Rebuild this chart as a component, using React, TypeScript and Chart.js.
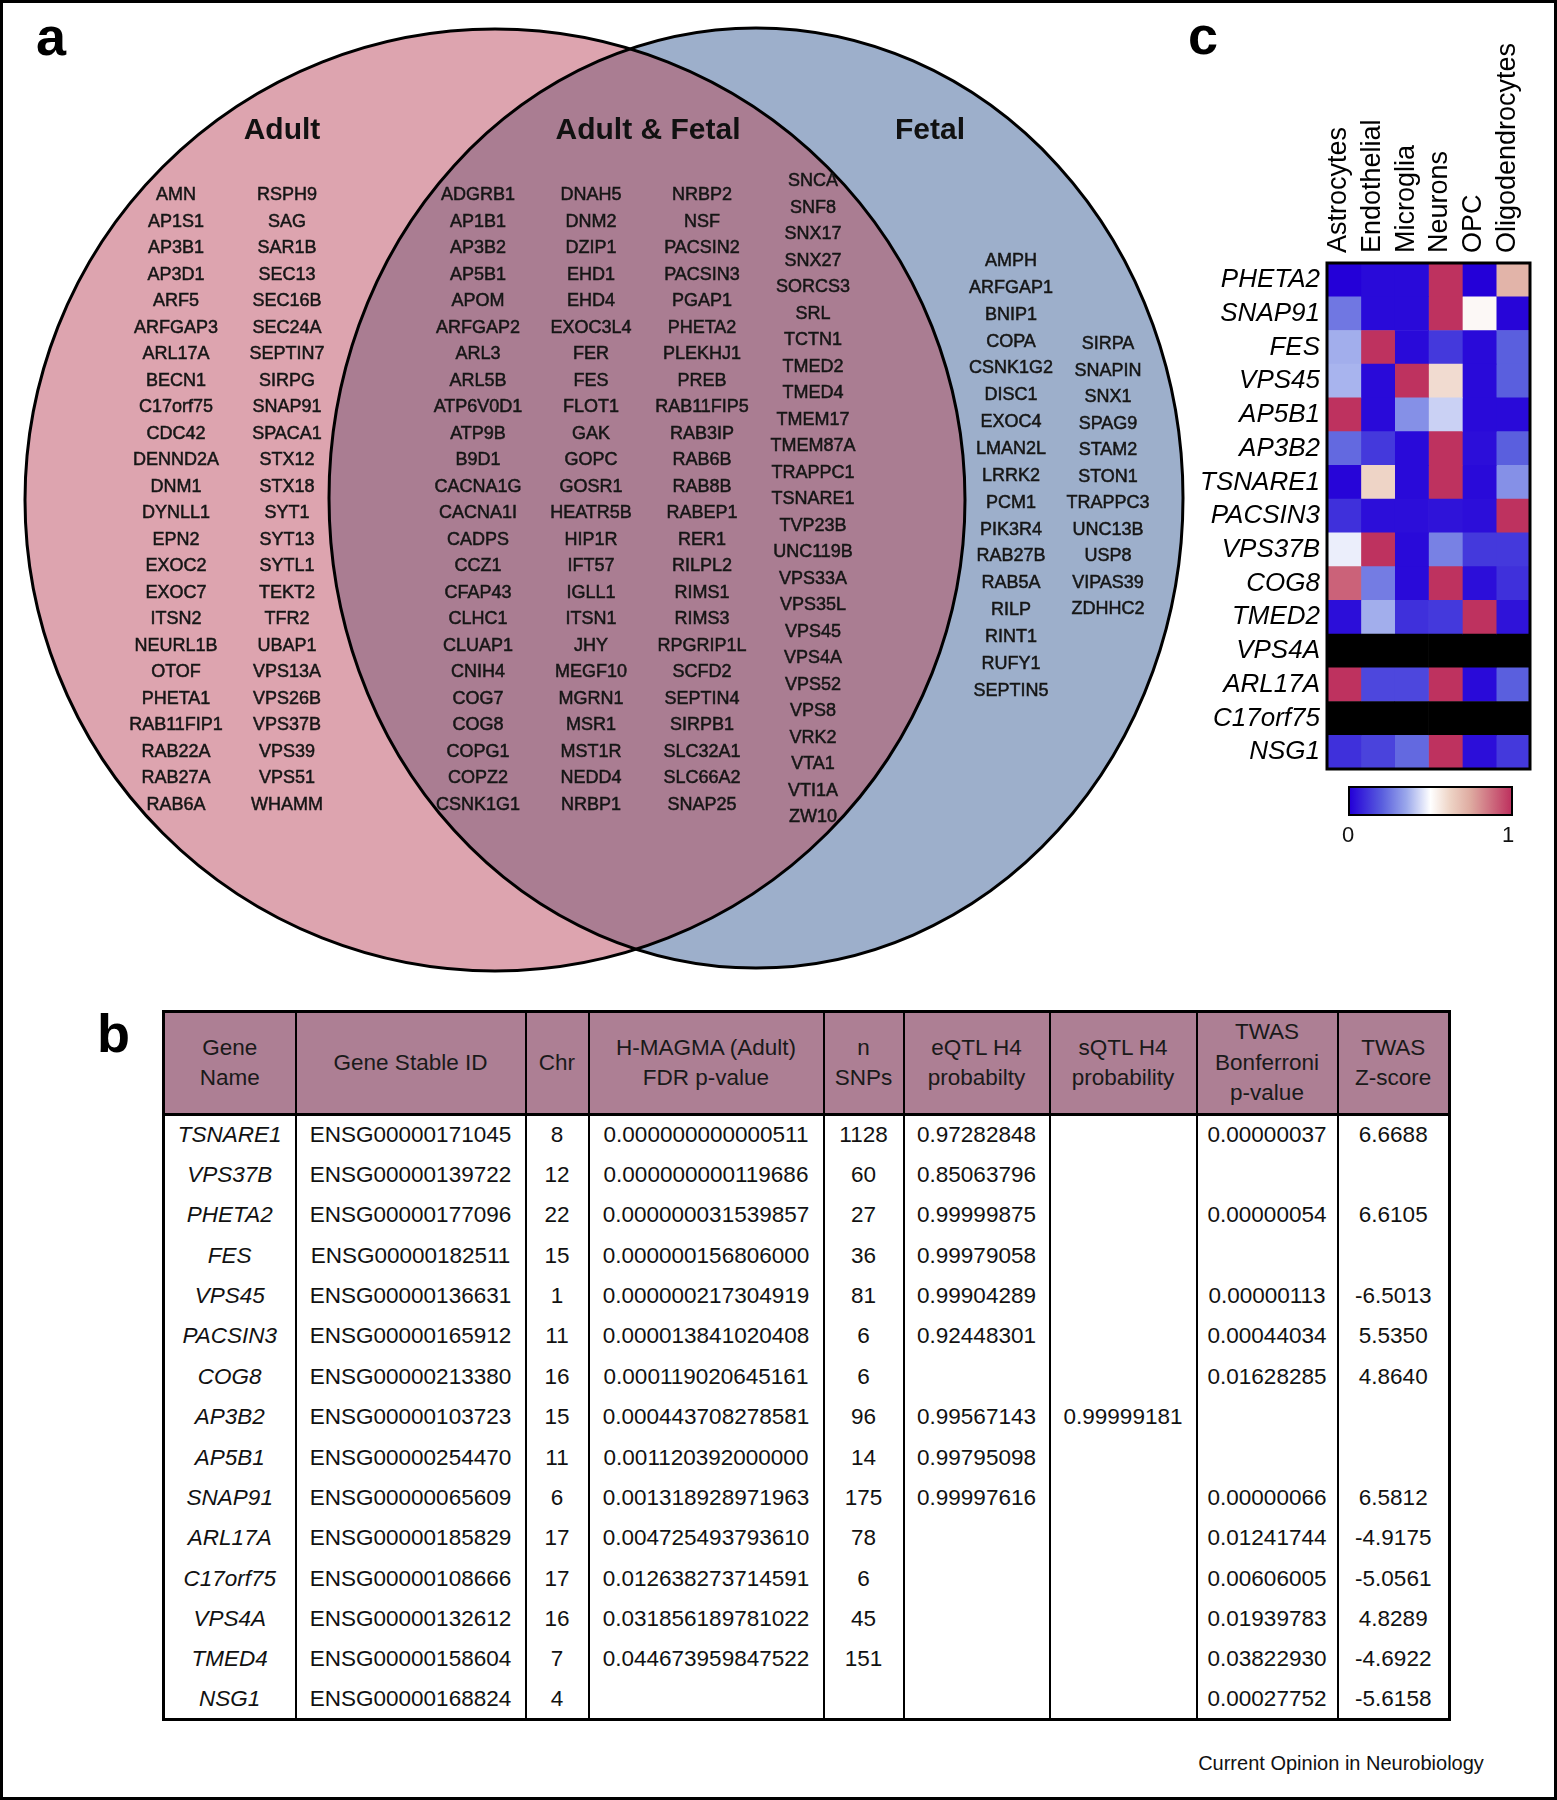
import React, { useEffect, useRef } from "react";
import { Chart, registerables } from "chart.js";

Chart.register(...registerables);

const FONT = '"Liberation Sans", Arial, Helvetica, sans-serif';

// ---------------- Panel a : Venn gene sets ----------------
const adultOnlyA = ["AMN", "AP1S1", "AP3B1", "AP3D1", "ARF5", "ARFGAP3", "ARL17A", "BECN1", "C17orf75", "CDC42", "DENND2A", "DNM1", "DYNLL1", "EPN2", "EXOC2", "EXOC7", "ITSN2", "NEURL1B", "OTOF", "PHETA1", "RAB11FIP1", "RAB22A", "RAB27A", "RAB6A"];
const adultOnlyB = ["RSPH9", "SAG", "SAR1B", "SEC13", "SEC16B", "SEC24A", "SEPTIN7", "SIRPG", "SNAP91", "SPACA1", "STX12", "STX18", "SYT1", "SYT13", "SYTL1", "TEKT2", "TFR2", "UBAP1", "VPS13A", "VPS26B", "VPS37B", "VPS39", "VPS51", "WHAMM"];
const sharedA = ["ADGRB1", "AP1B1", "AP3B2", "AP5B1", "APOM", "ARFGAP2", "ARL3", "ARL5B", "ATP6V0D1", "ATP9B", "B9D1", "CACNA1G", "CACNA1I", "CADPS", "CCZ1", "CFAP43", "CLHC1", "CLUAP1", "CNIH4", "COG7", "COG8", "COPG1", "COPZ2", "CSNK1G1"];
const sharedB = ["DNAH5", "DNM2", "DZIP1", "EHD1", "EHD4", "EXOC3L4", "FER", "FES", "FLOT1", "GAK", "GOPC", "GOSR1", "HEATR5B", "HIP1R", "IFT57", "IGLL1", "ITSN1", "JHY", "MEGF10", "MGRN1", "MSR1", "MST1R", "NEDD4", "NRBP1"];
const sharedC = ["NRBP2", "NSF", "PACSIN2", "PACSIN3", "PGAP1", "PHETA2", "PLEKHJ1", "PREB", "RAB11FIP5", "RAB3IP", "RAB6B", "RAB8B", "RABEP1", "RER1", "RILPL2", "RIMS1", "RIMS3", "RPGRIP1L", "SCFD2", "SEPTIN4", "SIRPB1", "SLC32A1", "SLC66A2", "SNAP25"];
const sharedD = ["SNCA", "SNF8", "SNX17", "SNX27", "SORCS3", "SRL", "TCTN1", "TMED2", "TMED4", "TMEM17", "TMEM87A", "TRAPPC1", "TSNARE1", "TVP23B", "UNC119B", "VPS33A", "VPS35L", "VPS45", "VPS4A", "VPS52", "VPS8", "VRK2", "VTA1", "VTI1A", "ZW10"];
const fetalOnlyA = ["AMPH", "ARFGAP1", "BNIP1", "COPA", "CSNK1G2", "DISC1", "EXOC4", "LMAN2L", "LRRK2", "PCM1", "PIK3R4", "RAB27B", "RAB5A", "RILP", "RINT1", "RUFY1", "SEPTIN5"];
const fetalOnlyB = ["SIRPA", "SNAPIN", "SNX1", "SPAG9", "STAM2", "STON1", "TRAPPC3", "UNC13B", "USP8", "VIPAS39", "ZDHHC2"];
const vennTitles = ["Adult", "Adult & Fetal", "Fetal"];

// layout of the gene columns (page pixels)
const GENE_COLUMNS = [
  { genes: adultOnlyA, x: 176, y: 194, step: 26.5 },
  { genes: adultOnlyB, x: 287, y: 194, step: 26.5 },
  { genes: sharedA, x: 478, y: 194, step: 26.5 },
  { genes: sharedB, x: 591, y: 194, step: 26.5 },
  { genes: sharedC, x: 702, y: 194, step: 26.5 },
  { genes: sharedD, x: 813, y: 180, step: 26.5 },
  { genes: fetalOnlyA, x: 1011, y: 260, step: 26.85 },
  { genes: fetalOnlyB, x: 1108, y: 343, step: 26.5 },
];
const TITLE_X = [282, 648, 930];
const TITLE_Y = 129;

// Venn shapes in the chart's own (x, y) units
const VENN_SHAPES = [
  { cx: 495, cy: 500, rx: 470, ry: 471 },
  { cx: 756, cy: 498, rx: 427, ry: 470 },
];
const PINK = "rgb(221,164,175)";
const BLUE = "rgb(157,175,203)";
const MAUVE = "rgb(170,125,146)";

// ---------------- Panel b : table ----------------
const tableHeaders = [["Gene", "Name"], ["Gene Stable ID"], ["Chr"], ["H-MAGMA (Adult)", "FDR p-value"], ["n", "SNPs"], ["eQTL H4", "probabilty"], ["sQTL H4", "probability"], ["TWAS", "Bonferroni", "p-value"], ["TWAS", "Z-score"]];
const tableGenes = ["TSNARE1", "VPS37B", "PHETA2", "FES", "VPS45", "PACSIN3", "COG8", "AP3B2", "AP5B1", "SNAP91", "ARL17A", "C17orf75", "VPS4A", "TMED4", "NSG1"];
const stableIds = ["ENSG00000171045", "ENSG00000139722", "ENSG00000177096", "ENSG00000182511", "ENSG00000136631", "ENSG00000165912", "ENSG00000213380", "ENSG00000103723", "ENSG00000254470", "ENSG00000065609", "ENSG00000185829", "ENSG00000108666", "ENSG00000132612", "ENSG00000158604", "ENSG00000168824"];
const chromosomes = ["8", "12", "22", "15", "1", "11", "16", "15", "11", "6", "17", "17", "16", "7", "4"];
const hmagmaFdr = ["0.000000000000511", "0.000000000119686", "0.000000031539857", "0.000000156806000", "0.000000217304919", "0.000013841020408", "0.000119020645161", "0.000443708278581", "0.001120392000000", "0.001318928971963", "0.004725493793610", "0.012638273714591", "0.031856189781022", "0.044673959847522", ""];
const nSnps = ["1128", "60", "27", "36", "81", "6", "6", "96", "14", "175", "78", "6", "45", "151", ""];
const eqtlH4 = ["0.97282848", "0.85063796", "0.99999875", "0.99979058", "0.99904289", "0.92448301", "", "0.99567143", "0.99795098", "0.99997616", "", "", "", "", ""];
const sqtlH4 = ["", "", "", "", "", "", "", "0.99999181", "", "", "", "", "", "", ""];
const twasP = ["0.00000037", "", "0.00000054", "", "0.00000113", "0.00044034", "0.01628285", "", "", "0.00000066", "0.01241744", "0.00606005", "0.01939783", "0.03822930", "0.00027752"];
const twasZ = ["6.6688", "", "6.6105", "", "-6.5013", "5.5350", "4.8640", "", "", "6.5812", "-4.9175", "-5.0561", "4.8289", "-4.6922", "-5.6158"];
const COL_WIDTHS = [132, 230, 63, 235, 80, 146, 147, 141, 112];
const HEADER_BG = "rgb(173,127,148)";

// ---------------- Panel c : heatmap ----------------
const cellTypes = ["Astrocytes", "Endothelial", "Microglia", "Neurons", "OPC", "Oligodendrocytes"];
const heatGenes = ["PHETA2", "SNAP91", "FES", "VPS45", "AP5B1", "AP3B2", "TSNARE1", "PACSIN3", "VPS37B", "COG8", "TMED2", "VPS4A", "ARL17A", "C17orf75", "NSG1"];
const astrocytes = [0.0, 0.25, 0.36, 0.37, 1.0, 0.22, 0.01, 0.1, 0.47, 0.9, 0.03, null, 1.0, null, 0.1];
const endothelial = [0.02, 0.02, 1.0, 0.02, 0.02, 0.12, 0.62, 0.03, 1.0, 0.26, 0.36, null, 0.15, null, 0.14];
const microglia = [0.02, 0.02, 0.02, 1.0, 0.3, 0.02, 0.02, 0.03, 0.02, 0.02, 0.1, null, 0.15, null, 0.22];
const neurons = [1.0, 1.0, 0.12, 0.6, 0.42, 1.0, 1.0, 0.04, 0.27, 1.0, 0.12, null, 1.0, null, 1.0];
const opc = [0.0, 0.52, 0.02, 0.02, 0.02, 0.03, 0.02, 0.03, 0.12, 0.03, 1.0, null, 0.02, null, 0.03];
const oligodendrocytes = [0.72, 0.01, 0.2, 0.2, 0.02, 0.2, 0.3, 1.0, 0.12, 0.1, 0.04, null, 0.2, null, 0.12];
const colorbarTicks = ["0", "1"];

const COLOR_STOPS: [number, number[]][] = [
  [0, [36, 0, 216]],
  [0.2, [90, 95, 222]],
  [0.35, [155, 168, 235]],
  [0.5, [255, 255, 255]],
  [0.62, [238, 212, 198]],
  [0.75, [222, 170, 160]],
  [1, [190, 50, 95]],
];

function heatColor(v: number | null): string {
  if (v === null || v === undefined) return "#000";
  const t = Math.max(0, Math.min(1, v));
  for (let i = 1; i < COLOR_STOPS.length; i++) {
    const [p1, c1] = COLOR_STOPS[i];
    const [p0, c0] = COLOR_STOPS[i - 1];
    if (t <= p1) {
      const f = (t - p0) / (p1 - p0);
      const c = c0.map((a, k) => Math.round(a + (c1[k] - a) * f));
      return `rgb(${c[0]},${c[1]},${c[2]})`;
    }
  }
  const c = COLOR_STOPS[COLOR_STOPS.length - 1][1];
  return `rgb(${c[0]},${c[1]},${c[2]})`;
}

const gradientCss = "linear-gradient(to right, " + COLOR_STOPS.map(([p, c]) => `rgb(${c[0]},${c[1]},${c[2]}) ${p * 100}%`).join(", ") + ")";

// ---------------- Components ----------------
function VennChart() {
  const ref = useRef<HTMLCanvasElement>(null);
  useEffect(() => {
    const vennPlugin = {
      id: "venn",
      beforeDatasetsDraw(chart: any) {
        const xs = chart.scales.x;
        const ys = chart.scales.y;
        const ctx = chart.ctx as CanvasRenderingContext2D;
        const shapes = VENN_SHAPES.map((s) => ({
          cx: xs.getPixelForValue(s.cx),
          cy: ys.getPixelForValue(s.cy),
          rx: Math.abs(xs.getPixelForValue(s.cx + s.rx) - xs.getPixelForValue(s.cx)),
          ry: Math.abs(ys.getPixelForValue(s.cy + s.ry) - ys.getPixelForValue(s.cy)),
        }));
        const path = (s: any) => {
          ctx.beginPath();
          ctx.ellipse(s.cx, s.cy, s.rx, s.ry, 0, 0, Math.PI * 2);
        };
        ctx.save();
        path(shapes[0]);
        ctx.fillStyle = PINK;
        ctx.fill();
        path(shapes[1]);
        ctx.fillStyle = BLUE;
        ctx.fill();
        ctx.save();
        path(shapes[0]);
        ctx.clip();
        path(shapes[1]);
        ctx.fillStyle = MAUVE;
        ctx.fill();
        ctx.restore();
        ctx.lineWidth = 3;
        ctx.strokeStyle = "#000";
        path(shapes[0]);
        ctx.stroke();
        path(shapes[1]);
        ctx.stroke();
        ctx.restore();
      },
    };
    const chart = new Chart(ref.current as HTMLCanvasElement, {
      type: "scatter",
      data: {
        datasets: [
          {
            data: VENN_SHAPES.map((s) => ({ x: s.cx, y: s.cy })),
            pointRadius: 0,
          },
        ],
      },
      options: {
        responsive: false,
        animation: false,
        layout: { padding: 0 },
        plugins: { legend: { display: false }, tooltip: { enabled: false } },
        scales: {
          x: { type: "linear", min: 0, max: 1250, display: false },
          y: { type: "linear", min: 0, max: 1000, reverse: true, display: false },
        },
      },
      plugins: [vennPlugin],
    } as any);
    return () => chart.destroy();
  }, []);
  return <canvas ref={ref} width={1250} height={1000} style={{ position: "absolute", left: 0, top: 0 }} />;
}

function HeatmapChart() {
  const ref = useRef<HTMLCanvasElement>(null);
  useEffect(() => {
    const frame = {
      id: "frame",
      afterDatasetsDraw(chart: any) {
        const { ctx, chartArea: a } = chart;
        ctx.save();
        ctx.lineWidth = 3;
        ctx.strokeStyle = "#000";
        ctx.strokeRect(a.left, a.top, a.right - a.left, a.bottom - a.top);
        ctx.restore();
      },
    };
    const columns = [astrocytes, endothelial, microglia, neurons, opc, oligodendrocytes];
    const chart = new Chart(ref.current as HTMLCanvasElement, {
      type: "bar",
      data: {
        labels: heatGenes,
        datasets: cellTypes.map((ct, i) => ({
          label: ct,
          data: heatGenes.map(() => 1),
          backgroundColor: columns[i].map((v) => heatColor(v)),
          borderWidth: 0,
          barPercentage: 1,
          categoryPercentage: 1,
        })),
      },
      options: {
        responsive: false,
        animation: false,
        indexAxis: "y",
        layout: { padding: { left: 0, right: 3, top: 0, bottom: 20 } },
        plugins: { legend: { display: false }, tooltip: { enabled: false } },
        scales: {
          x: { type: "linear", stacked: true, min: 0, max: 6, display: false },
          x2: {
            type: "category",
            labels: cellTypes,
            position: "top",
            offset: true,
            grid: { display: false, drawTicks: false },
            border: { display: false },
            ticks: {
              minRotation: 90,
              maxRotation: 90,
              autoSkip: false,
              padding: 10,
              labelOffset: 27,
              color: "#000",
              font: { family: FONT, size: 27 },
            },
            afterFit: (s: any) => {
              s.height = 263;
            },
          },
          y: {
            type: "category",
            stacked: true,
            offset: true,
            grid: { display: false, drawTicks: false },
            border: { display: false },
            ticks: {
              autoSkip: false,
              padding: 7,
              color: "#000",
              font: { family: FONT, size: 26, style: "italic", lineHeight: 1 },
            },
            afterFit: (s: any) => {
              s.width = 147;
            },
          },
        },
      },
      plugins: [frame],
    } as any);
    return () => chart.destroy();
  }, []);
  return <canvas ref={ref} width={353} height={789} style={{ position: "absolute", left: 1180, top: 0 }} />;
}

const abs = (left: number, top: number, extra: React.CSSProperties = {}): React.CSSProperties => ({
  position: "absolute",
  left,
  top,
  whiteSpace: "nowrap",
  ...extra,
});

function DataTable() {
  const cols = [tableGenes, stableIds, chromosomes, hmagmaFdr, nSnps, eqtlH4, sqtlH4, twasP, twasZ];
  const cellBase: React.CSSProperties = {
    borderLeft: "2px solid #000",
    borderRight: "2px solid #000",
    padding: 0,
    textAlign: "center",
    verticalAlign: "middle",
    color: "#111",
    whiteSpace: "nowrap",
    overflow: "hidden",
  };
  return (
    <table
      style={{
        position: "absolute",
        left: 162,
        top: 1010,
        width: 1286,
        borderCollapse: "collapse",
        tableLayout: "fixed",
        border: "3px solid #000",
        fontFamily: FONT,
        fontSize: 22.5,
      }}
    >
      <colgroup>
        {COL_WIDTHS.map((w, i) => (
          <col key={i} style={{ width: w }} />
        ))}
      </colgroup>
      <thead>
        <tr style={{ height: 103 }}>
          {tableHeaders.map((lines, i) => (
            <th
              key={i}
              style={{
                ...cellBase,
                background: HEADER_BG,
                borderBottom: "3px solid #000",
                fontWeight: 400,
                lineHeight: "30.5px",
                color: "#1a1a1a",
              }}
            >
              {lines.map((l, j) => (
                <div key={j}>{l}</div>
              ))}
            </th>
          ))}
        </tr>
      </thead>
      <tbody>
        {tableGenes.map((g, r) => (
          <tr key={g} style={{ height: 40.36 }}>
            {cols.map((c, ci) => (
              <td key={ci} style={{ ...cellBase, fontStyle: ci === 0 ? "italic" : "normal" }}>
                {c[r]}
              </td>
            ))}
          </tr>
        ))}
      </tbody>
    </table>
  );
}

export default function App() {
  return (
    <div
      style={{
        position: "absolute",
        left: 0,
        top: 0,
        width: 1557,
        height: 1800,
        background: "#fff",
        fontFamily: FONT,
        overflow: "hidden",
      }}
    >
      <VennChart />
      {vennTitles.map((t, i) => (
        <div
          key={t}
          style={abs(TITLE_X[i], TITLE_Y, {
            transform: "translate(-50%, -50%)",
            fontSize: 30,
            fontWeight: 700,
            color: "#111",
            lineHeight: 1,
          })}
        >
          {t}
        </div>
      ))}
      {GENE_COLUMNS.map((col, ci) =>
        col.genes.map((g, gi) => (
          <div
            key={ci + "-" + g}
            style={abs(col.x, col.y + gi * col.step, {
              transform: "translate(-50%, -50%)",
              fontSize: 18,
              color: "#161616",
              lineHeight: 1,
              WebkitTextStroke: "0.5px #161616",
            })}
          >
            {g}
          </div>
        ))
      )}

      <HeatmapChart />
      <div
        style={abs(1348, 786, {
          width: 165,
          height: 30,
          boxSizing: "border-box",
          border: "2.5px solid #000",
          background: gradientCss,
        })}
      />
      <div style={abs(1348, 835, { transform: "translate(-50%, -50%)", fontSize: 22, lineHeight: 1, color: "#111" })}>
        {colorbarTicks[0]}
      </div>
      <div style={abs(1508, 835, { transform: "translate(-50%, -50%)", fontSize: 22, lineHeight: 1, color: "#111" })}>
        {colorbarTicks[1]}
      </div>

      <DataTable />

      <div style={abs(36, 9, { fontSize: 54, fontWeight: 700, lineHeight: 1, color: "#000" })}>a</div>
      <div style={abs(97, 1006, { fontSize: 54, fontWeight: 700, lineHeight: 1, color: "#000" })}>b</div>
      <div style={abs(1188, 8, { fontSize: 54, fontWeight: 700, lineHeight: 1, color: "#000" })}>c</div>

      <div
        style={abs(1341, 1763, {
          transform: "translate(-50%, -50%)",
          fontSize: 20,
          lineHeight: 1,
          color: "#111",
        })}
      >
        Current Opinion in Neurobiology
      </div>

      <div
        style={{
          position: "absolute",
          left: 0,
          top: 0,
          width: 1557,
          height: 1800,
          boxSizing: "border-box",
          border: "3px solid #000",
          pointerEvents: "none",
        }}
      />
    </div>
  );
}
